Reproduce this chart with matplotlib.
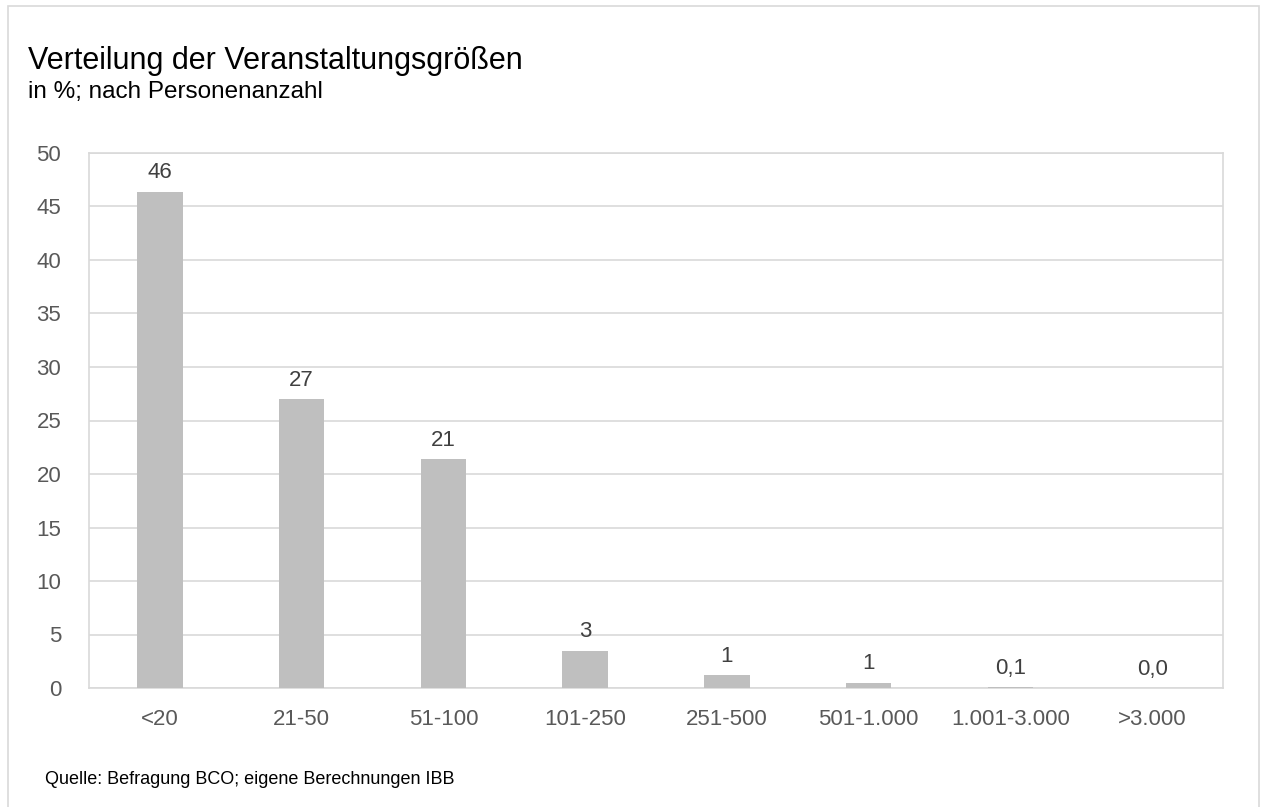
import matplotlib
matplotlib.use("Agg")
import matplotlib.pyplot as plt
from matplotlib.patches import Rectangle

plt.rcParams['font.family'] = ['Liberation Sans', 'DejaVu Sans']

categories = ["<20", "21-50", "51-100", "101-250", "251-500", "501-1.000", "1.001-3.000", ">3.000"]
values = [46.4, 27.0, 21.4, 3.5, 1.2, 0.5, 0.1, 0.0]
labels = ["46", "27", "21", "3", "1", "1", "0,1", "0,0"]
yticks = [0, 5, 10, 15, 20, 25, 30, 35, 40, 45, 50]

W, H = 1261, 807
fig = plt.figure(figsize=(W / 100, H / 100), dpi=100)
ax = fig.add_axes([89 / W, 1 - 688 / H, (1223 - 89) / W, (688 - 153) / H])

x = range(len(categories))
bars = ax.bar(x, values, width=0.32, color="#bfbfbf", zorder=3)
for xi, v, lab in zip(x, values, labels):
    ax.annotate(lab, (xi, v), xytext=(0, 6), textcoords="offset points",
                ha="center", va="bottom", fontsize=16, color="#404040")

ax.set_xlim(-0.5, len(categories) - 0.5)
ax.set_ylim(0, 50)
ax.set_yticks(yticks)
ax.set_xticks(list(x))
ax.set_xticklabels(categories)
ax.tick_params(axis="both", length=0, labelsize=16, labelcolor="#595959")
ax.tick_params(axis="x", pad=15)
ax.tick_params(axis="y", pad=20)
ax.grid(axis="y", color="#d9d9d9", linewidth=1.2, zorder=0)
for s in ["top", "right", "left", "bottom"]:
    ax.spines[s].set_color("#d9d9d9")
    ax.spines[s].set_linewidth(1.2)

fig.text(28 / W, 1 - 69 / H, "Verteilung der Veranstaltungsgrößen", fontsize=22,
         color="#000000", ha="left", va="baseline")
fig.text(28 / W, 1 - 98 / H, "in %; nach Personenanzahl", fontsize=17.5,
         color="#000000", ha="left", va="baseline")
fig.text(45 / W, 1 - 784 / H, "Quelle: Befragung BCO; eigene Berechnungen IBB", fontsize=13,
         color="#000000", ha="left", va="baseline")

fig.patches.append(Rectangle((8 / W, -0.01), (1259 - 8) / W, 1 - 6 / H + 0.01,
                             transform=fig.transFigure, fill=False,
                             edgecolor="#d9d9d9", linewidth=1.2))

fig.savefig("out.png", dpi=100)
